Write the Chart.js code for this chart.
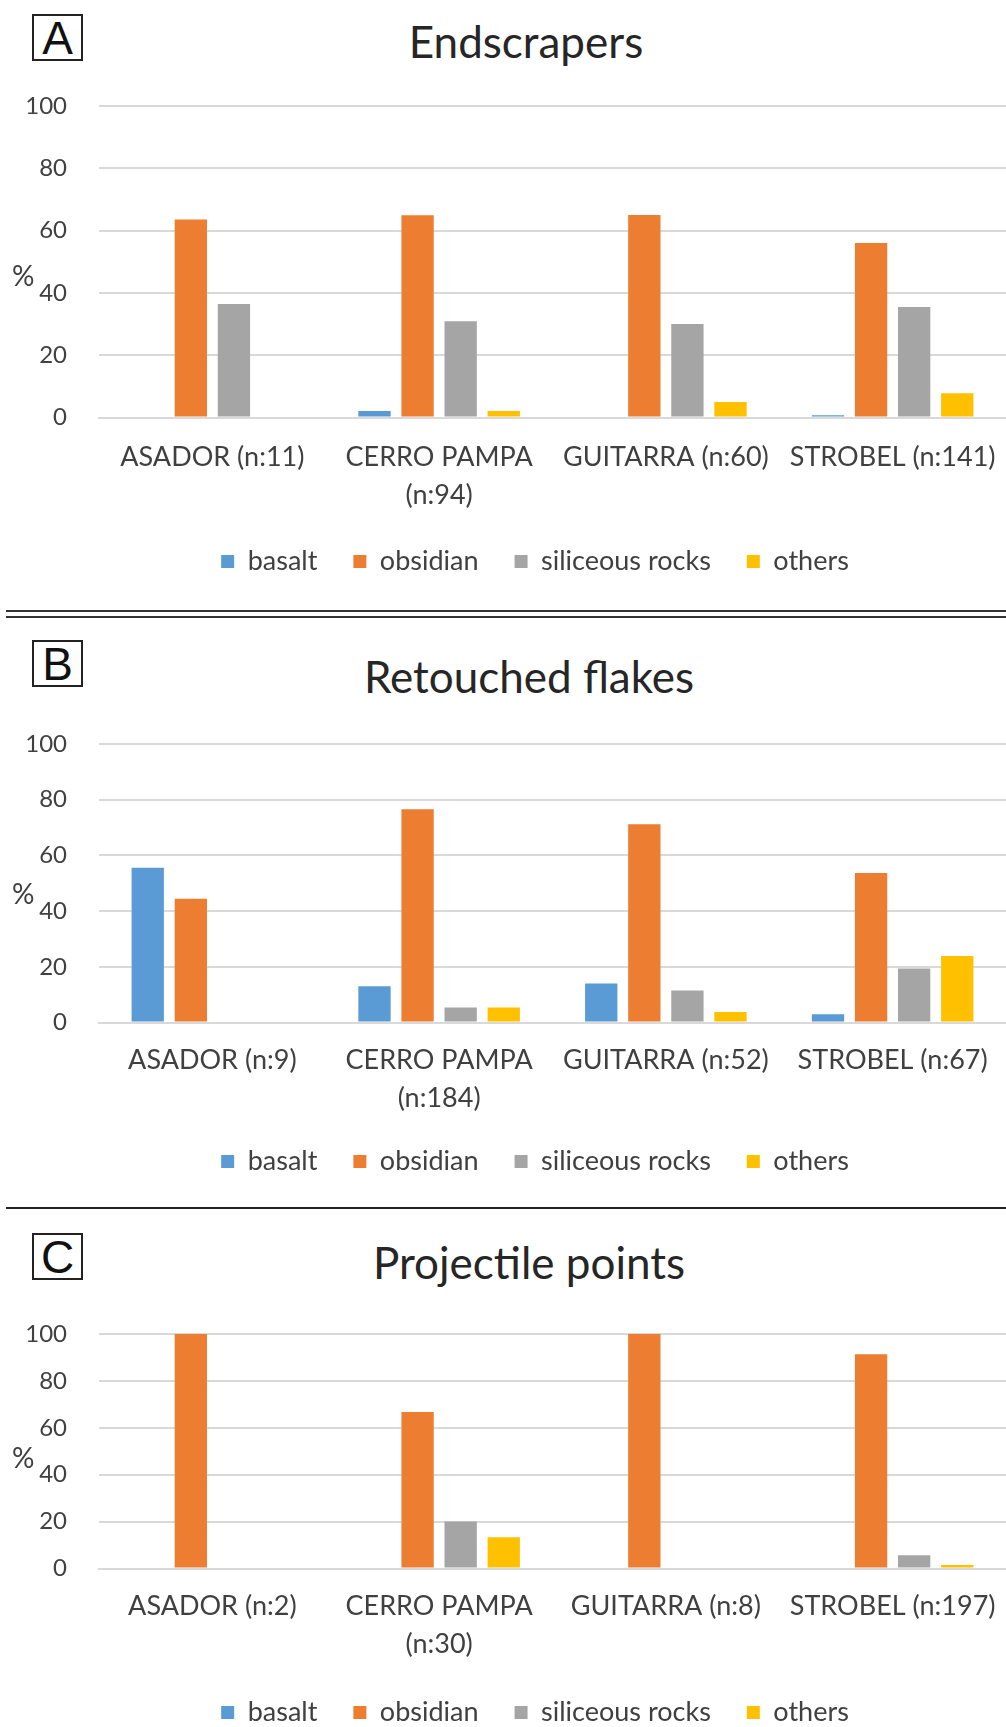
<!DOCTYPE html>
<html>
<head>
<meta charset="utf-8">
<script src="https://cdn.jsdelivr.net/npm/chart.js@4.4.1/dist/chart.umd.min.js"></script>
<style>
  body { margin: 0; background: #fff; width: 1006px; height: 1727px; position: relative; overflow: hidden; font-family: Lato, "Liberation Sans", sans-serif; }
  .wrap { position: absolute; left: 0; width: 1006px; }
  .panel-title { position: absolute; width: 600px; text-align: center; font-size: 44px; line-height: 44px; color: #262626; }
  .tag { position: absolute; left: 32px; width: 47px; height: 43px; border: 2px solid #222; font: 46px/45px "Liberation Sans", sans-serif; text-align: center; color: #111; }
  .rule { position: absolute; left: 6px; right: 0; height: 2px; background: #333; z-index: 5; }
</style>
</head>
<body>
<div id="root"></div>
<div class="rule" style="top:610px"></div>
<div class="rule" style="top:616px"></div>
<div class="rule" style="top:1207px; background:#222"></div>

<script>
// series order in every panel
const seriesNames = ["basalt", "obsidian", "siliceous rocks", "others"];
const yTicks = [0, 20, 40, 60, 80, 100];

// A - Endscrapers
const labelsA = ["ASADOR (n:11)", ["CERRO PAMPA", "(n:94)"], "GUITARRA (n:60)", "STROBEL (n:141)"];
const basaltA = [0, 2.1, 0, 0.7];
const obsidianA = [63.6, 64.9, 65.0, 56.0];
const siliceousA = [36.4, 30.9, 30.0, 35.5];
const othersA = [0, 2.1, 5.0, 7.8];

// B - Retouched flakes
const labelsB = ["ASADOR (n:9)", ["CERRO PAMPA", "(n:184)"], "GUITARRA (n:52)", "STROBEL (n:67)"];
const basaltB = [55.6, 13.0, 14.0, 3.0];
const obsidianB = [44.4, 76.6, 71.2, 53.7];
const siliceousB = [0, 5.4, 11.5, 19.4];
const othersB = [0, 5.4, 3.8, 23.9];

// C - Projectile points
const labelsC = ["ASADOR (n:2)", ["CERRO PAMPA", "(n:30)"], "GUITARRA (n:8)", "STROBEL (n:197)"];
const basaltC = [0, 0, 0, 0];
const obsidianC = [100, 66.7, 100, 91.4];
const siliceousC = [0, 20.0, 0, 5.6];
const othersC = [0, 13.3, 0, 1.5];

const colors = ["#5B9BD5", "#ED7D31", "#A5A5A5", "#FFC000"];
const FONT = "Lato, 'Liberation Sans', sans-serif";
const TEXT = "#404040";
const GRID = "#d9d9d9";
const LEG_FONT = 27, LEG_PAD = 36, X_FONT = 27, X_LH = 38, Y_FONT = 24, PAD_TOP = 30;
const PLOT_LEFT = 99, LABEL_RIGHT = 67, PAD_LEFT = 64;

// page layout of the three panels (pixels)
const panels = [
  { tag: "A", title: "Endscrapers", titleX: 526, titleY: 41, tagTop: 14,
    plotTop: 106, plotBottom: 418, labelY: 458, legendY: 562,
    labels: labelsA, data: [basaltA, obsidianA, siliceousA, othersA] },
  { tag: "B", title: "Retouched flakes", titleX: 529, titleY: 676, tagTop: 640,
    plotTop: 744, plotBottom: 1023, labelY: 1061, legendY: 1162,
    labels: labelsB, data: [basaltB, obsidianB, siliceousB, othersB] },
  { tag: "C", title: "Projectile points", titleX: 529, titleY: 1262, tagTop: 1233,
    plotTop: 1334, plotBottom: 1569, labelY: 1607, legendY: 1713,
    labels: labelsC, data: [basaltC, obsidianC, siliceousC, othersC] }
];

// width of the widest y tick label, so the mirrored labels end at LABEL_RIGHT
const mctx = document.createElement("canvas").getContext("2d");
mctx.font = Y_FONT + "px " + FONT;
const widestTick = Math.max.apply(null, yTicks.map(function (v) { return mctx.measureText(String(v)).width; }));

const percentLabel = {
  id: "percentLabel",
  afterDraw(chart) {
    const y = chart.scales.y.getPixelForValue(40) - 16;
    const ctx = chart.ctx;
    ctx.save();
    ctx.font = "28px " + FONT;
    ctx.fillStyle = TEXT;
    ctx.textAlign = "left";
    ctx.textBaseline = "middle";
    ctx.fillText("%", 12, y);
    ctx.restore();
  }
};

const root = document.getElementById("root");

panels.forEach(function (p) {
  const tag = document.createElement("div");
  tag.className = "tag";
  tag.style.top = p.tagTop + "px";
  tag.textContent = p.tag;
  root.appendChild(tag);

  const title = document.createElement("div");
  title.className = "panel-title";
  title.style.left = (p.titleX - 300) + "px";
  title.style.top = (p.titleY - 22) + "px";
  title.textContent = p.title;
  root.appendChild(title);

  const plotH = p.plotBottom - p.plotTop;
  const xPadding = p.labelY - p.plotBottom - X_LH / 2;
  const axisH = p.legendY - p.plotBottom - LEG_PAD - LEG_FONT / 2;
  const legendH = LEG_FONT + LEG_PAD + 10;
  const h = PAD_TOP + plotH + axisH + legendH;
  const top = p.plotTop - PAD_TOP;

  const wrap = document.createElement("div");
  wrap.className = "wrap";
  wrap.style.top = top + "px";
  wrap.style.height = h + "px";
  const canvas = document.createElement("canvas");
  canvas.width = 1006;
  canvas.height = h;
  wrap.appendChild(canvas);
  root.appendChild(wrap);

  new Chart(canvas, {
    type: "bar",
    data: {
      labels: p.labels,
      datasets: seriesNames.map(function (name, i) {
        return { label: name, data: p.data[i], backgroundColor: colors[i], borderWidth: 0 };
      })
    },
    options: {
      responsive: false,
      animation: false,
      devicePixelRatio: 1,
      categoryPercentage: 0.76,
      barPercentage: 0.75,
      layout: { padding: { top: PAD_TOP, left: PAD_LEFT, right: 0, bottom: 0 } },
      plugins: {
        title: { display: false },
        tooltip: { enabled: false },
        legend: {
          position: "bottom",
          labels: { boxWidth: 13, boxHeight: 13, padding: LEG_PAD, color: TEXT, font: { family: FONT, size: LEG_FONT } }
        }
      },
      scales: {
        x: {
          grid: { display: false, drawTicks: false },
          border: { display: true, color: GRID, width: 2 },
          ticks: { color: TEXT, padding: xPadding, maxRotation: 0, autoSkip: false,
                   font: { family: FONT, size: X_FONT, lineHeight: X_LH / X_FONT } },
          afterFit: function (s) { s.height = axisH; s.paddingLeft = 0; s.paddingRight = 0; }
        },
        y: {
          min: 0, max: 100,
          grid: { color: GRID, lineWidth: 2, drawTicks: false },
          border: { display: false },
          ticks: { color: TEXT, mirror: true, crossAlign: "far",
                   padding: LABEL_RIGHT - PLOT_LEFT - widestTick,
                   font: { family: FONT, size: Y_FONT } },
          afterBuildTicks: function (s) { s.ticks = yTicks.map(function (v) { return { value: v }; }); },
          afterFit: function (s) { s.width = PLOT_LEFT - PAD_LEFT; }
        }
      }
    },
    plugins: [percentLabel]
  });
});
</script>
</body>
</html>
